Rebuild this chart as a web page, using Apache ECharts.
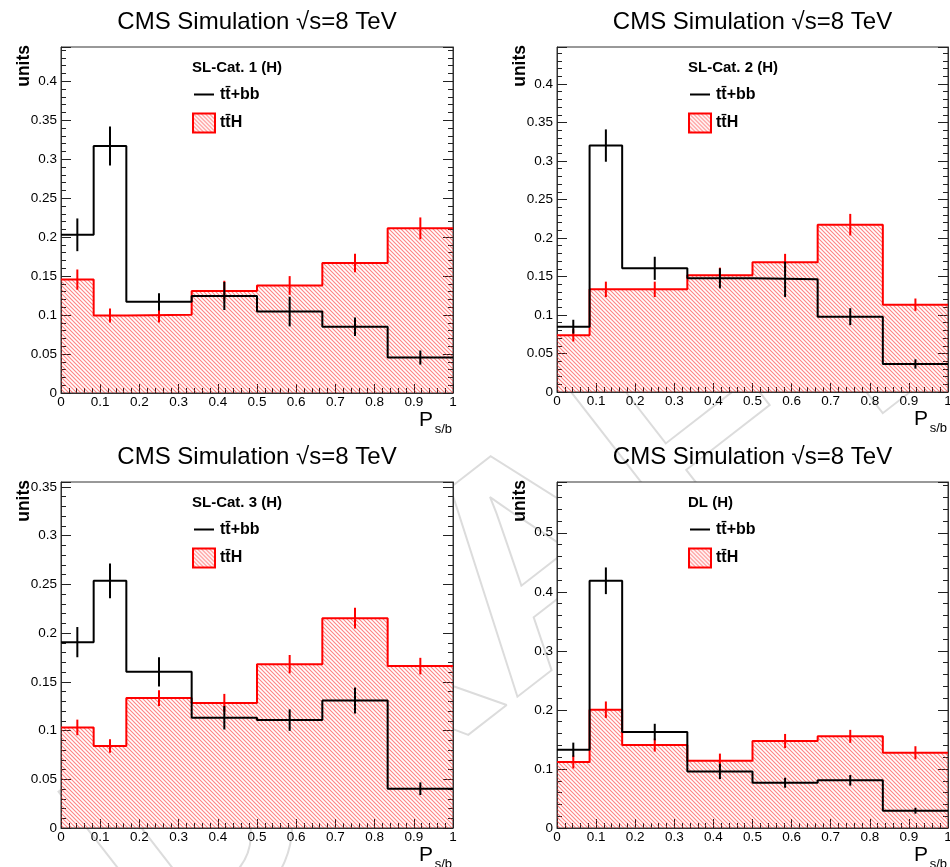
<!DOCTYPE html>
<html>
<head>
<meta charset="utf-8">
<script src="https://cdn.jsdelivr.net/npm/echarts@6/dist/echarts.min.js"></script>
<style>
  html, body { margin: 0; padding: 0; background: #fff; }
  #chart { width: 950px; height: 867px; }
</style>
</head>
<body>
<div id="chart"></div>
<script>
// Variable-width bins of the discriminant P_s/b
const BIN_EDGES = [0, 1/12, 2/12, 4/12, 6/12, 8/12, 10/12, 1];
const X_TICKS = [0, 0.1, 0.2, 0.3, 0.4, 0.5, 0.6, 0.7, 0.8, 0.9, 1];
const CATEGORIES = ['SL-Cat. 1 (H)', 'SL-Cat. 2 (H)', 'SL-Cat. 3 (H)', 'DL (H)'];
const Y_MAX = [0.444, 0.448, 0.355, 0.586];
const Y_STEP = [0.05, 0.05, 0.05, 0.1];

// Normalised shapes ("units") per category: tt+bb background and ttH signal
const TTBB_SL1     = [0.203, 0.317, 0.117, 0.1245, 0.1045, 0.085, 0.0455];
const TTBB_SL1_ERR = [0.021, 0.025, 0.011, 0.018, 0.019, 0.012, 0.009];
const TTH_SL1      = [0.1455, 0.0995, 0.1005, 0.131, 0.138, 0.1668, 0.2113];
const TTH_SL1_ERR  = [0.013, 0.009, 0.010, 0.013, 0.012, 0.012, 0.014];

const TTBB_SL2     = [0.0848, 0.320, 0.1606, 0.1476, 0.1463, 0.0978, 0.0364];
const TTBB_SL2_ERR = [0.009, 0.021, 0.015, 0.013, 0.023, 0.011, 0.006];
const TTH_SL2      = [0.0736, 0.1333, 0.1333, 0.1515, 0.1684, 0.2173, 0.1134];
const TTH_SL2_ERR  = [0.008, 0.010, 0.010, 0.010, 0.011, 0.014, 0.008];

const TTBB_SL3     = [0.1907, 0.2536, 0.1603, 0.1131, 0.1107, 0.1309, 0.0403];
const TTBB_SL3_ERR = [0.0155, 0.0178, 0.015, 0.012, 0.011, 0.0133, 0.0065];
const TTH_SL3      = [0.1032, 0.0841, 0.1333, 0.1282, 0.1681, 0.2153, 0.1661];
const TTH_SL3_ERR  = [0.008, 0.007, 0.008, 0.0094, 0.0094, 0.0106, 0.0085];

const TTBB_DL      = [0.1326, 0.4187, 0.1625, 0.0959, 0.0767, 0.0807, 0.0293];
const TTBB_DL_ERR  = [0.012, 0.0226, 0.014, 0.013, 0.0085, 0.009, 0.005];
const TTH_DL       = [0.1117, 0.2003, 0.1405, 0.114, 0.1473, 0.1552, 0.1275];
const TTH_DL_ERR   = [0.011, 0.014, 0.011, 0.012, 0.012, 0.011, 0.011];

const TTBB = [TTBB_SL1, TTBB_SL2, TTBB_SL3, TTBB_DL];
const TTBB_ERR = [TTBB_SL1_ERR, TTBB_SL2_ERR, TTBB_SL3_ERR, TTBB_DL_ERR];
const TTH = [TTH_SL1, TTH_SL2, TTH_SL3, TTH_DL];
const TTH_ERR = [TTH_SL1_ERR, TTH_SL2_ERR, TTH_SL3_ERR, TTH_DL_ERR];

const NAME_BKG = 'tt\u0304+bb';
const NAME_SIG = 'tt\u0304H';
const FONT = '"Liberation Sans", Arial, Helvetica, sans-serif';

// Pad layout (pixels)
const PADS = [
  { left: 61,  top: 47,  width: 392, height: 346 },
  { left: 557, top: 47,  width: 391, height: 345 },
  { left: 61,  top: 482, width: 392, height: 346 },
  { left: 557, top: 482, width: 391, height: 346 }
];

// Red diagonal hatch used for the signal fill
function makeHatch() {
  const c = document.createElement('canvas');
  c.width = 4; c.height = 4;
  const g = c.getContext('2d');
  g.strokeStyle = 'rgba(255,30,30,0.55)';
  g.lineWidth = 1.1;
  g.beginPath();
  g.moveTo(-1, -1); g.lineTo(5, 5);
  g.moveTo(-1, 3);  g.lineTo(1, 5);
  g.moveTo(3, -1);  g.lineTo(5, 1);
  g.stroke();
  return c;
}
const HATCH = { image: makeHatch(), repeat: 'repeat' };

// Legend key for the outline histogram: a short horizontal bar centred in a 22x19 box
// (degenerate corner segments keep the box size so the bar is not stretched)
const LINE_KEY = 'path://M0,0L0.01,0M1,8.5L21,8.5L21,10.5L1,10.5ZM22,19L21.99,19';

// Step histogram points: left edge of every bin, closed at the last edge
function stepPoints(vals) {
  const pts = vals.map((v, i) => [BIN_EDGES[i], v]);
  pts.push([BIN_EDGES[BIN_EDGES.length - 1], vals[vals.length - 1]]);
  return pts;
}
function errPoints(vals, errs) {
  return vals.map((v, i) => [(BIN_EDGES[i] + BIN_EDGES[i + 1]) / 2, v, errs[i]]);
}
function errorSeries(p, vals, errs, color, z) {
  return {
    type: 'custom', xAxisIndex: p, yAxisIndex: 2 * p, z: z, silent: true,
    encode: { x: 0, y: 1 },
    data: errPoints(vals, errs),
    renderItem: function (params, api) {
      const x = api.value(0), y = api.value(1), e = api.value(2);
      const a = api.coord([x, y - e]);
      const b = api.coord([x, y + e]);
      return {
        type: 'line',
        shape: { x1: a[0], y1: a[1], x2: b[0], y2: b[1] },
        style: { stroke: color, lineWidth: 2 }
      };
    }
  };
}

const grid = [], xAxis = [], yAxis = [], series = [], legend = [], title = [], graphic = [];

// faint outlined stamp behind the pads
graphic.push({
  type: 'text', x: 520, y: 590, rotation: 0.66, z: -10, silent: true,
  style: {
    text: 'DRAFT', font: 'bold 300px ' + FONT, fill: 'none',
    stroke: '#dcdcdc', lineWidth: 2, align: 'center', verticalAlign: 'middle'
  }
});

PADS.forEach((g, p) => {
  grid.push({
    left: g.left, top: g.top, width: g.width, height: g.height,
    show: true, backgroundColor: '#fff', borderColor: '#333', borderWidth: 1,
    outerBoundsMode: 'none'
  });

  const tickStyle = { color: '#222', width: 1 };
  xAxis.push({
    gridIndex: p, type: 'value', min: X_TICKS[0], max: X_TICKS[X_TICKS.length - 1], interval: 0.1,
    axisLine: { show: true, onZero: false, lineStyle: { color: '#333', width: 1 } },
    axisTick: { show: true, inside: true, length: 9, lineStyle: tickStyle },
    minorTick: { show: true, splitNumber: 5, length: 5, lineStyle: tickStyle },
    splitLine: { show: false },
    axisLabel: { show: true, margin: 2, fontSize: 13.5, color: '#000', fontFamily: FONT }
  });

  const yCommon = {
    gridIndex: p, type: 'value', min: 0, max: Y_MAX[p], interval: Y_STEP[p],
    axisLine: { show: true, onZero: false, lineStyle: { color: '#333', width: 1 } },
    axisTick: { show: true, inside: true, length: 10, lineStyle: tickStyle },
    minorTick: { show: true, splitNumber: 5, length: 5, lineStyle: tickStyle },
    splitLine: { show: false }
  };
  yAxis.push(Object.assign({}, yCommon, {
    position: 'left',
    axisLabel: { show: true, margin: 4, fontSize: 13.5, color: '#000', fontFamily: FONT,
                 showMaxLabel: false }
  }));
  yAxis.push(Object.assign({}, yCommon, {
    position: 'right',
    axisLabel: { show: false }
  }));

  // ttH: hatched red histogram with statistical error bars
  series.push({
    type: 'line', name: NAME_SIG, xAxisIndex: p, yAxisIndex: 2 * p,
    step: 'end', symbol: 'none', showSymbol: false, silent: true, z: 2,
    data: stepPoints(TTH[p]),
    lineStyle: { color: '#ff0000', width: 2 },
    itemStyle: { color: '#ff0000' },
    areaStyle: { color: HATCH, opacity: 1, origin: 'start' }
  });
  series.push(errorSeries(p, TTH[p], TTH_ERR[p], '#ff0000', 3));

  // tt+bb: black outline histogram with error bars
  series.push({
    type: 'line', name: NAME_BKG, xAxisIndex: p, yAxisIndex: 2 * p,
    step: 'end', symbol: 'none', showSymbol: false, silent: true, z: 4,
    data: stepPoints(TTBB[p]),
    lineStyle: { color: '#000', width: 2 },
    itemStyle: { color: '#000' }
  });
  series.push(errorSeries(p, TTBB[p], TTBB_ERR[p], '#000', 5));

  legend.push({
    left: g.left + 131, top: g.top + 38, orient: 'vertical', padding: 0,
    itemWidth: 22, itemHeight: 19, itemGap: 8.5, selectedMode: false,
    textStyle: { fontFamily: FONT, fontSize: 16, fontWeight: 'bold', color: '#000' },
    data: [
      { name: NAME_BKG, icon: LINE_KEY, itemStyle: { color: '#000', borderWidth: 0 } },
      { name: NAME_SIG, icon: 'rect',
        itemStyle: { color: HATCH, borderColor: '#ff0000', borderWidth: 2 } }
    ]
  });

  title.push({
    text: 'CMS Simulation \u221As=8 TeV',
    left: g.left + g.width / 2, top: g.top - 37, padding: 0, textAlign: 'center',
    textStyle: { fontFamily: FONT, fontSize: 24, fontWeight: 'normal', color: '#000' }
  });

  // category label inside the frame
  graphic.push({
    type: 'text', x: g.left + 131, y: g.top + 21, silent: true,
    style: { text: CATEGORIES[p], font: 'bold 15px ' + FONT, fill: '#000', verticalAlign: 'middle' }
  });
  // y-axis title, aligned at the top end
  graphic.push({
    type: 'text', x: g.left - 37, y: g.top - 2, rotation: Math.PI / 2, silent: true,
    style: { text: 'units', font: 'bold 17.5px ' + FONT, fill: '#000',
             align: 'right', verticalAlign: 'middle' }
  });
  // x-axis title P_{s/b}, aligned at the right end
  const bottom = g.top + g.height;
  const right = g.left + g.width;
  graphic.push({
    type: 'text', x: right - 20, y: bottom + 27, silent: true,
    style: { text: 'P', font: '21px ' + FONT, fill: '#000', align: 'right', verticalAlign: 'middle' }
  });
  graphic.push({
    type: 'text', x: right - 1, y: bottom + 36, silent: true,
    style: { text: 's/b', font: '13px ' + FONT, fill: '#000', align: 'right', verticalAlign: 'middle' }
  });
});

const chart = echarts.init(document.getElementById('chart'), null, { renderer: 'canvas' });
chart.setOption({
  animation: false,
  backgroundColor: '#fff',
  title: title,
  legend: legend,
  grid: grid,
  xAxis: xAxis,
  yAxis: yAxis,
  series: series,
  graphic: graphic
});
</script>
</body>
</html>
